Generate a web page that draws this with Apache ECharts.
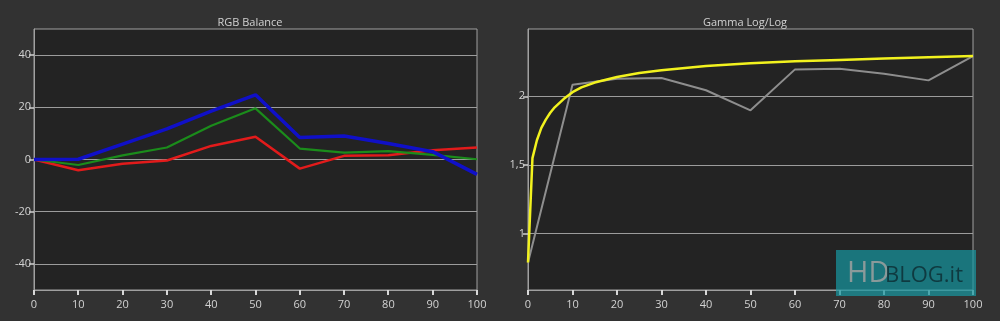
<!DOCTYPE html>
<html><head><meta charset="utf-8">
<script src="https://cdn.jsdelivr.net/npm/echarts@6/dist/echarts.min.js"></script>
<style>html,body{margin:0;padding:0;background:#323232}#c{width:1000px;height:321px}</style>
</head><body><div id="c"></div>
<script>
// ---- data ----
const levels = [0,10,20,30,40,50,60,70,80,90,100];
const redBal   = [0,-4.1,-1.6,-0.4,5.2,8.7,-3.5,1.4,1.6,3.5,4.6];
const greenBal = [0,-2.1,1.6,4.6,12.9,19.6,4.2,2.6,3.2,1.8,0.1];
const blueBal  = [0,0.1,5.9,11.7,18.5,24.8,8.4,9.0,6.1,3.0,-5.7];
const rgbTicks = [-40,-20,0,20,40];
const gammaMeasured = [0.79,2.085,2.128,2.133,2.044,1.898,2.196,2.20,2.165,2.116,2.293];
const refX = [0,1,2,3,4,5,6,8,10,12,15,20,25,30,40,50,60,70,80,90,100];
const refGamma = [0.79,1.55,1.68,1.77,1.83,1.88,1.92,1.98,2.03,2.065,2.10,2.14,2.17,2.19,2.22,2.24,2.255,2.265,2.275,2.285,2.293];
const gammaTicks = [1,1.5,2];
const xTickValues = [0,10,20,30,40,50,60,70,80,90,100];

const RGB_MIN = -50, RGB_MAX = 50, G_MIN = 0.59, G_MAX = 2.49;
const pairs = (xs, ys) => xs.map((x,i)=>[x, ys[i]]);
const FONT = '"Open Sans", "Noto Sans", sans-serif';
const txt = '#d2d2d2';
const gridCommon = {show:true, backgroundColor:'#232323', borderColor:'#a0a0a0', borderWidth:1, containLabel:false};
function xAxis(gi){
  return {type:'value', gridIndex:gi, min:0, max:100, interval:10, position:'bottom',
    axisLine:{show:true, onZero:false, lineStyle:{color:'#a0a0a0', width:1}}, splitLine:{show:false},
    axisTick:{show:false},
    axisLabel:{color:txt, fontFamily:FONT, fontSize:11, margin:9}};
}
function yAxis(gi, min, max, ticks, fmt){
  return {type:'value', gridIndex:gi, min:min, max:max, position:'left',
    axisLine:{show:true, onZero:false, lineStyle:{color:'#a0a0a0', width:1}},
    axisTick:{show:true, inside:false, length:5, customValues:ticks, lineStyle:{color:'#d0d0d0', width:1.5}},
    axisLabel:{color:txt, fontFamily:FONT, fontSize:11, margin:3, customValues:ticks, formatter:fmt},
    splitLine:{show:true, lineStyle:{color:'#9c9c9c', width:1}}};
}
const watermark = [
  {type:'rect', shape:{x:836, y:250, width:140, height:46}, style:{fill:'rgba(24,150,160,0.72)'}, z:100},
  {type:'text', x:847, y:274, style:{text:'HD', fill:'#8a9a9a', font:'normal 29px "Open Sans", sans-serif', verticalAlign:'middle', align:'left'}, z:101},
  {type:'text', x:885, y:276, style:{text:'BLOG.it', fill:'#0f3a40', font:'normal 22px "Open Sans", sans-serif', verticalAlign:'middle', align:'left'}, z:101}
];
const chart = echarts.init(document.getElementById('c'), null, {renderer:'canvas'});
chart.setOption({
  backgroundColor:'#323232',
  animation:false,
  title:[
    {text:'RGB Balance', left:245, top:12, textAlign:'center', textStyle:{color:txt, fontFamily:FONT, fontSize:11, fontWeight:'normal'}},
    {text:'Gamma Log/Log', left:740, top:12, textAlign:'center', textStyle:{color:txt, fontFamily:FONT, fontSize:11, fontWeight:'normal'}}
  ],
  grid:[
    Object.assign({left:34, right:523, top:29, bottom:31}, gridCommon),
    Object.assign({left:528, right:27, top:29, bottom:31}, gridCommon)
  ],
  xAxis:[xAxis(0), xAxis(1)],
  yAxis:[
    yAxis(0, RGB_MIN, RGB_MAX, rgbTicks, v=>String(v)),
    yAxis(1, G_MIN, G_MAX, gammaTicks, v=>String(v).replace('.',','))
  ],
  series:[
    {type:'line', xAxisIndex:0, yAxisIndex:0, data:pairs(levels, redBal), symbol:'none', lineStyle:{color:'#e21b1b', width:2.5}, z:3},
    {type:'line', xAxisIndex:0, yAxisIndex:0, data:pairs(levels, greenBal), symbol:'none', lineStyle:{color:'#1b8c1b', width:2.2}, z:4},
    {type:'line', xAxisIndex:0, yAxisIndex:0, data:pairs(levels, blueBal), symbol:'none', lineStyle:{color:'#1010c8', width:3.5}, z:5},
    {type:'line', xAxisIndex:1, yAxisIndex:1, data:pairs(levels, gammaMeasured), symbol:'none', lineStyle:{color:'#8e8e8e', width:2}, z:3},
    {type:'line', xAxisIndex:1, yAxisIndex:1, data:pairs(refX, refGamma), symbol:'none', lineStyle:{color:'#f2f21e', width:2.5}, z:4}
  ],
  graphic: watermark
});
// x-axis tick marks placed through the chart's own scales
const tickMarks = [];
[[0, RGB_MIN],[1, G_MIN]].forEach(([gi, yMin])=>{
  xTickValues.forEach(v=>{
    const p = chart.convertToPixel({gridIndex:gi}, [v, yMin]);
    tickMarks.push({type:'rect', shape:{x:Math.round(p[0])-1, y:Math.round(p[1]), width:2, height:5}, style:{fill:'#d8d8d8'}, z:90});
  });
});
chart.setOption({graphic: watermark.concat(tickMarks)}, {replaceMerge:['graphic']});
</script></body></html>
